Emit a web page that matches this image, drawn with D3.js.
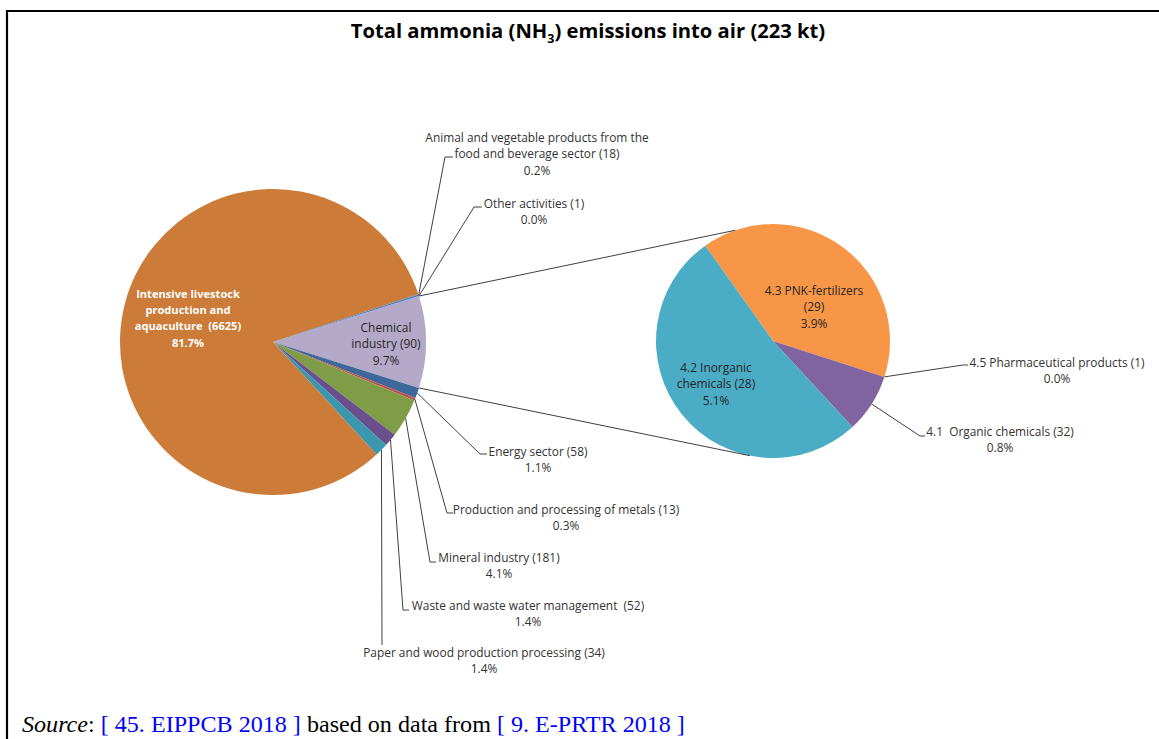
<!DOCTYPE html>
<html><head><meta charset="utf-8">
<script src="https://cdn.jsdelivr.net/npm/d3@7"></script>
<style>body{margin:0;background:#fff;overflow:hidden} svg{display:block} text{white-space:pre}</style>
</head><body>
<svg id="chart" width="1159" height="739"></svg>
<script>
// ---- data ----
const categories = ["Chemical industry","Energy sector","Production and processing of metals","Mineral industry","Waste and waste water management","Paper and wood production processing","Intensive livestock production and aquaculture","Animal and vegetable products from the food and beverage sector","Other activities"];
const counts = [90,58,13,181,52,34,6625,18,1];
const shares = [9.7,1.1,0.3,4.1,1.4,1.4,81.7,0.2,0.0];
const labelLines = [
  ["Chemical","industry (90)","9.7%"],
  ["Energy sector (58)","1.1%"],
  ["Production and processing of metals (13)","0.3%"],
  ["Mineral industry (181)","4.1%"],
  ["Waste and waste water management  (52)","1.4%"],
  ["Paper and wood production processing (34)","1.4%"],
  ["Intensive livestock","production and","aquaculture  (6625)","81.7%"],
  ["Animal and vegetable products from the","food and beverage sector (18)","0.2%"],
  ["Other activities (1)","0.0%"]
];
const subCategories = ["4.3 PNK-fertilizers","4.5 Pharmaceutical products","4.1  Organic chemicals","4.2 Inorganic chemicals"];
const subCounts = [29,1,32,28];
const subShares = [3.9,0.0,0.8,5.1];
const subLabelLines = [
  ["4.3 PNK-fertilizers","(29)","3.9%"],
  ["4.5 Pharmaceutical products (1)","0.0%"],
  ["4.1  Organic chemicals (32)","0.8%"],
  ["4.2 Inorganic","chemicals (28)","5.1%"]
];
const titleText = ["Total ammonia (NH","3",") emissions into air (223 kt)"];

// ---- styles / layout ----
const colors = ["#b5a9c9","#3d6899","#c0504d","#7f9c47","#6a4f8d","#3a97ae","#cc7b38","#4f84c4","#9bbb59"];
const subColors = ["#f79646","#c0504d","#8064a2","#4bacc6"];
const main = {cx:273, cy:342, r:153};
const sub = {cx:773, cy:341, r:117};
const FONT = "'Open Sans', 'Noto Sans', sans-serif";
const FS = 11.9;
const LH = 16.3;

const mainLayout = [
  {type:"in", x:386, y:328, color:"#262626"},
  {type:"out", x:538, y:452, pts:[[480,454],[487,454]]},
  {type:"out", x:566, y:510, pts:[[447,513],[453,513]]},
  {type:"out", x:499, y:558, pts:[[430,562],[436,562]]},
  {type:"out", x:528, y:606, pts:[[403,610],[409,610]]},
  {type:"out", x:484, y:653, pts:[[382,645]]},
  {type:"in", x:188, y:294, color:"#ffffff", bold:true, fs:11.1},
  {type:"out", x:537, y:138, pts:[[445,157],[453,157]]},
  {type:"out", x:534, y:204, pts:[[474,207],[482,207]]}
];
const subLayout = [
  {type:"in", x:814, y:291, color:"#262626"},
  {type:"out", x:1057, y:363, pts:[[963,365],[968,365]]},
  {type:"out", x:1000, y:432, pts:[[920,436],[925,436]]},
  {type:"in", x:716, y:368, color:"#262626"}
];

const svg = d3.select("#chart");
const deg = Math.PI/180;

// frame
svg.append("path").attr("d","M7,739 V11 H1159").attr("fill","none").attr("stroke","#000").attr("stroke-width",2.2);

// title
const title = svg.append("text").attr("x",588).attr("y",38).attr("text-anchor","middle")
  .attr("font-family",FONT).attr("font-weight","bold").attr("font-size",20.2).attr("fill","#000");
title.append("tspan").text(titleText[0]);
title.append("tspan").attr("dy",5).attr("font-size",12.5).text(titleText[1]);
title.append("tspan").attr("dy",-5).text(titleText[2]);

// main pie
const total = d3.sum(shares);
const mainStart = Math.PI/2 - (shares[0]/total)*Math.PI;
const pieMain = d3.pie().sort(null).value(d=>d).startAngle(mainStart).endAngle(mainStart+2*Math.PI);
const arcsMain = pieMain(shares);
const arcGen = d3.arc().innerRadius(0);
const gMain = svg.append("g").attr("transform",`translate(${main.cx},${main.cy})`);
gMain.selectAll("path").data(arcsMain).join("path")
  .attr("d",d=>arcGen.outerRadius(main.r)(d))
  .attr("fill",(d,i)=>colors[i]);

// sub pie
const subStart = -35.4*deg;
const pieSub = d3.pie().sort(null).value(d=>d).startAngle(subStart).endAngle(subStart+2*Math.PI);
const arcsSub = pieSub(subShares);
const gSub = svg.append("g").attr("transform",`translate(${sub.cx},${sub.cy})`);
gSub.selectAll("path").data(arcsSub).join("path")
  .attr("d",d=>arcGen.outerRadius(sub.r)(d))
  .attr("fill",(d,i)=>subColors[i]);

// connector lines between pies
const pt = (c,a,r)=>[c.cx + r*Math.sin(a), c.cy - r*Math.cos(a)];
const chem = arcsMain[0];
const conn = [
  [pt(main,chem.startAngle,main.r), pt(sub,-18.9*deg,sub.r)],
  [pt(main,chem.endAngle,main.r), pt(sub,191.4*deg,sub.r)]
];
svg.selectAll("line.conn").data(conn).join("line").attr("class","conn")
  .attr("x1",d=>d[0][0]).attr("y1",d=>d[0][1]).attr("x2",d=>d[1][0]).attr("y2",d=>d[1][1])
  .attr("stroke","#404040").attr("stroke-width",1);

function drawLabels(arcs, layout, lines, center){
  arcs.forEach((a,i)=>{
    const L = layout[i];
    if(L.type==="out"){
      const mid = (a.startAngle+a.endAngle)/2;
      const p0 = pt(center, mid, center.r);
      svg.append("polyline").attr("points",[p0,...L.pts].map(p=>p.join(",")).join(" "))
        .attr("fill","none").attr("stroke","#404040").attr("stroke-width",1);
    }
    const t = svg.append("text").attr("text-anchor","middle").attr("font-family",FONT)
      .attr("font-size",L.fs||FS).attr("fill",L.color||"#333")
      .attr("font-weight",L.bold?"bold":"normal");
    lines[i].forEach((s,k)=>{
      t.append("tspan").attr("x",L.x).attr("y",L.y+k*LH).attr("dy","0.35em").text(s);
    });
  });
}
drawLabels(arcsMain, mainLayout, labelLines, main);
drawLabels(arcsSub, subLayout, subLabelLines, sub);

// source line
const src = svg.append("text").attr("x",22).attr("y",732).attr("font-family","'Liberation Serif','Times New Roman',serif").attr("font-size",24.1).attr("fill","#000");
src.append("tspan").attr("font-style","italic").text("Source");
src.append("tspan").text(": ");
src.append("tspan").attr("fill","#0000ff").text("[ 45. EIPPCB 2018 ]");
src.append("tspan").text(" based on data from ");
src.append("tspan").attr("fill","#0000ff").text("[ 9. E-PRTR 2018 ]");
</script>
</body></html>
